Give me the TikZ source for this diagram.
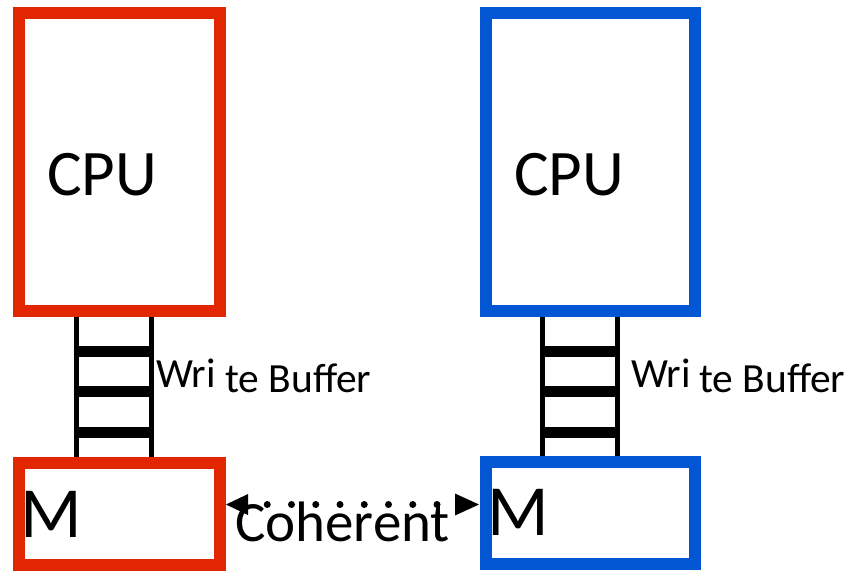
\documentclass[tikz,border=0pt]{standalone}
\usepackage{fontspec}
\setmainfont{Carlito}
\definecolor{cred}{RGB}{226,38,2}
\definecolor{cblue}{RGB}{2,86,212}
\tikzset{
  unitbox/.style={draw, line width=12pt, inner sep=0pt},
  cpubox/.style={unitbox, minimum height=298pt},
  membox/.style={unitbox, minimum height=102pt},
  rail/.style={line width=5pt},
  rung/.style={line width=11pt},
  bigtext/.style={anchor=base west, inner sep=0pt, font=\fontsize{65}{70}\selectfont},
  mtext/.style={anchor=base west, inner sep=0pt, font=\fontsize{72}{76}\selectfont},
  wbtext/.style={anchor=base west, inner sep=0pt, font=\fontsize{41.5}{44}\selectfont},
  cohtext/.style={anchor=base west, inner sep=0pt, font=\fontsize{57}{60}\selectfont},
  coh/.style={line width=7pt, line cap=round, dash pattern=on 0pt off 24.25pt},
  tip/.style={fill=black}
}
\begin{document}
\begin{tikzpicture}[x=1pt,y=-1pt]
\useasboundingbox (0,0) rectangle (853,571);
% boxes
\node[cpubox, cred, minimum width=201pt] (cpuL) at (119.5,162) {};
\node[membox, cred, minimum width=201pt] (memL) at (119.5,514) {};
\node[cpubox, cblue, minimum width=209pt] (cpuR) at (590.5,162) {};
\node[membox, cblue, minimum width=209pt] (memR) at (590.5,513) {};
% texts
\node[bigtext] (tcpuL) at (47,195) {CPU};
\node[bigtext] (tcpuR) at (514,195) {CPU};
\node[mtext] (tmL) at (20,537) {M};
\node[mtext] (tmR) at (487,535) {M};
\node[wbtext] (wriL) at (156,387) {Wri};
\node[wbtext] (tebL) at (225,392) {te Buffer};
\node[wbtext] (wriR) at (631,387) {Wri};
\node[wbtext] (tebR) at (699,392) {te Buffer};
\node[cohtext] (coh) at (235,541) {Coherent};
% ladders
\foreach \side/\a/\b in {L/76/151, R/542/617}{
  \coordinate (a\side) at (\a,0);
  \coordinate (b\side) at (\b,0);
  \draw[rail] (cpu\side.south -| a\side) -- (mem\side.north -| a\side);
  \draw[rail] (cpu\side.south -| b\side) -- (mem\side.north -| b\side);
  \foreach \y in {351,391,432}{
    \draw[rung] ([xshift=-2.5pt]a\side |- 0,\y) -- ([xshift=2.5pt]b\side |- 0,\y);
  }
}
% coherent arrow
\coordinate (tipL) at ([yshift=9.5pt]memL.east);
\coordinate (tipR) at (tipL -| memR.west);
\draw[coh] ([xshift=17pt]tipL) -- ([xshift=-42pt]tipR);
\fill[tip] (tipL) -- ++(22,-10.5) -- ++(0,21) -- cycle;
\fill[tip] ([xshift=-1pt]tipR) -- ++(-24,-11) -- ++(0,22) -- cycle;
\end{tikzpicture}
\end{document}
